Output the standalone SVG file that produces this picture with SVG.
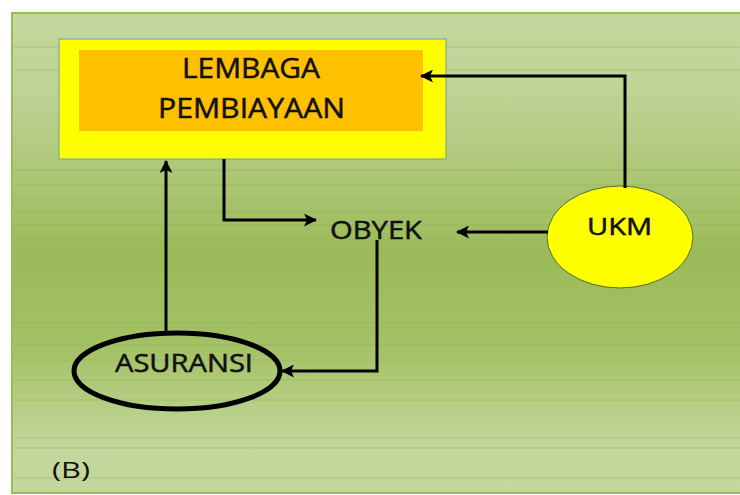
<svg xmlns="http://www.w3.org/2000/svg" width="740" height="495" viewBox="0 0 740 495">
  <defs>
    <linearGradient id="bg" x1="0" y1="0" x2="0" y2="1">
      <stop offset="0" stop-color="#c4d79d"/>
      <stop offset="0.15" stop-color="#c0d497"/>
      <stop offset="0.5" stop-color="#9bbb59"/>
      <stop offset="0.7" stop-color="#a4c266"/>
      <stop offset="0.9" stop-color="#c3d69b"/>
      <stop offset="1" stop-color="#c4d79d"/>
    </linearGradient>
    <marker id="head" viewBox="0 0 13 13" refX="12" refY="6.5" markerWidth="13" markerHeight="13" markerUnits="userSpaceOnUse" orient="auto">
      <path d="M0,0 L13,6.5 L0,13 L3,6.5 Z" fill="#000"/>
    </marker>
    <style>
      .lbl { font-family: "Open Sans", "Liberation Sans", sans-serif; fill: #111; stroke: #111; stroke-width: 0.5; }
      .cap { font-family: "Open Sans", "Liberation Sans", sans-serif; fill: #111; }
      .wire { fill: none; stroke: #000; stroke-width: 3; marker-end: url(#head); }
      .rule { stroke: #8fae4d; stroke-width: 1; opacity: 0.45; }
    </style>
  </defs>

  <!-- slide panel -->
  <rect x="0" y="0" width="740" height="495" fill="#ffffff"/>
  <rect x="12" y="13" width="730" height="480" fill="url(#bg)" stroke="#9bbb59" stroke-width="2"/>
  <g id="rules">
    <line class="rule" x1="14" y1="47" x2="740" y2="47"/>
    <line class="rule" x1="14" y1="70" x2="740" y2="70"/>
    <line class="rule" x1="14" y1="170" x2="740" y2="170"/>
    <line class="rule" x1="14" y1="185" x2="740" y2="185"/>
    <line class="rule" x1="14" y1="200" x2="740" y2="200"/>
    <line class="rule" x1="14" y1="212" x2="740" y2="212"/>
    <line class="rule" x1="14" y1="225" x2="740" y2="225"/>
    <line class="rule" x1="14" y1="240" x2="740" y2="240"/>
    <line class="rule" x1="14" y1="323" x2="740" y2="323"/>
    <line class="rule" x1="14" y1="345" x2="740" y2="345"/>
    <line class="rule" x1="14" y1="360" x2="740" y2="360"/>
    <line class="rule" x1="14" y1="380" x2="740" y2="380"/>
    <line class="rule" x1="14" y1="400" x2="740" y2="400"/>
    <line class="rule" x1="14" y1="438" x2="740" y2="438"/>
    <line class="rule" x1="14" y1="448" x2="740" y2="448"/>
    <line class="rule" x1="14" y1="478" x2="740" y2="478"/>
  </g>

  <!-- nodes -->
  <g id="lembaga">
    <rect x="59" y="39" width="387" height="120" fill="#ffff00" stroke="#6aa0a0" stroke-width="1"/>
    <rect x="79" y="50" width="344" height="81" fill="#ffc000"/>
    <text class="lbl" x="182" y="78" font-size="28" textLength="138" lengthAdjust="spacingAndGlyphs">LEMBAGA</text>
    <text class="lbl" x="158" y="118" font-size="28" textLength="187" lengthAdjust="spacingAndGlyphs">PEMBIAYAAN</text>
  </g>

  <g id="obyek">
    <text class="lbl" x="330" y="239" font-size="25" textLength="92" lengthAdjust="spacingAndGlyphs">OBYEK</text>
  </g>

  <g id="ukm">
    <ellipse cx="620" cy="237" rx="73" ry="51" fill="#ffff00" stroke="#556b2f" stroke-width="1"/>
    <text class="lbl" x="587" y="235" font-size="24" textLength="65" lengthAdjust="spacingAndGlyphs">UKM</text>
  </g>

  <g id="asuransi">
    <ellipse cx="177" cy="371" rx="103" ry="38" fill="none" stroke="#000" stroke-width="5"/>
    <text class="lbl" x="115" y="372" font-size="25" textLength="138" lengthAdjust="spacingAndGlyphs">ASURANSI</text>
  </g>

  <!-- connectors -->
  <g id="connectors">
    <path class="wire" d="M625,188 V76 H421"/>
    <path class="wire" d="M224,159 V220 H316"/>
    <path class="wire" d="M548,232 H457"/>
    <path class="wire" d="M377,240 V371 H282"/>
    <path class="wire" d="M166,333 V161"/>
  </g>

  <text class="cap" x="52" y="478" font-size="22" textLength="38" lengthAdjust="spacingAndGlyphs">(B)</text>
</svg>
